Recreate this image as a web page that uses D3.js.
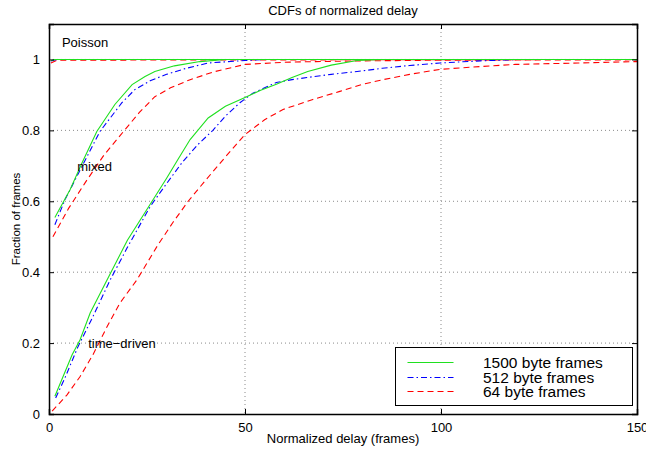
<!DOCTYPE html>
<html lang="en">
<head>
<meta charset="UTF-8">
<title>CDFs of normalized delay</title>
<script src="https://d3js.org/d3.v7.min.js"></script>
<style>
    body { margin: 0; background: #fff; }
    svg { display: block; font-family: "Liberation Sans", Arial, sans-serif; }
    .grid line { stroke: #8a8a8a; stroke-width: 1; stroke-dasharray: 1,3; }
    .curve { fill: none; stroke-width: 1.1; }
    .lbl { font-size: 13px; fill: #000; }
</style>
</head>
<body>
<script>
// tick values
const xTicks = [0, 50, 100, 150];
const yTicks = [0, 0.2, 0.4, 0.6, 0.8, 1];
const seriesNames = ["1500 byte frames", "512 byte frames", "64 byte frames"];

// time-driven traffic, [delay, fraction]
const td1500 = [[1.5,0.05],[5.9,0.167],[7.9,0.209],[10.5,0.285],[14.8,0.378],[20,0.49],[26.3,0.6],[30,0.665],[33,0.72],[36,0.774],[40.6,0.835],[45,0.868],[50,0.893],[54,0.913],[58,0.93],[62,0.949],[66,0.966],[72,0.984],[78.6,0.997],[85,1],[150,1]];
const td512 = [[1.7,0.045],[4,0.1],[7.4,0.19],[11,0.27],[15.6,0.378],[20,0.47],[25.8,0.585],[30,0.65],[34,0.71],[38,0.76],[41.8,0.8],[45,0.84],[48.7,0.878],[52,0.905],[58,0.935],[62,0.943],[65.8,0.949],[72,0.958],[78.6,0.966],[85,0.975],[92,0.983],[99.7,0.99],[110,0.996],[120,1],[150,1]];
const td64 = [[0.8,0.008],[4.6,0.054],[7.9,0.105],[11.2,0.167],[14.8,0.246],[18.1,0.313],[22.4,0.378],[27.8,0.477],[31.6,0.54],[35.5,0.6],[40,0.66],[45,0.725],[50,0.788],[55,0.83],[59.7,0.859],[67.3,0.887],[74.2,0.91],[80,0.93],[85.2,0.943],[92,0.958],[99.7,0.972],[110,0.98],[119,0.986],[135,0.99],[150,0.994]];

// mixed traffic
const mx1500 = [[1.5,0.554],[5.4,0.633],[8.5,0.71],[12.2,0.797],[16.8,0.873],[21.2,0.929],[24.5,0.952],[27,0.966],[32,0.982],[38.5,0.994],[45,1],[150,1]];
const mx512 = [[1.5,0.534],[4.1,0.605],[8.5,0.7],[13,0.797],[18.6,0.878],[21.9,0.915],[25.8,0.94],[30,0.958],[35,0.975],[40.6,0.99],[50,0.997],[55,1],[150,1]];
const mx64 = [[1,0.5],[5,0.58],[9.2,0.652],[14,0.73],[19.4,0.802],[23,0.85],[27,0.895],[31,0.92],[36,0.943],[42,0.965],[50,0.986],[60,0.992],[68,0.994],[80,0.996],[100,0.998],[150,0.999]];

// poisson traffic
const po1500 = [[0.5,0.997],[1.5,1],[150,1]];
const po512 = [[0.5,0.996],[2,1],[150,1]];
const po64 = [[0.5,0.99],[2,0.998],[150,1]];

const styles = [
    { color: "#1fe01f", dash: null },
    { color: "#0000ff", dash: "6,3,1.5,3" },
    { color: "#ff0000", dash: "6,4" }
];

// draw order: 64, 512, 1500 so green is on top
const curves = [
    { pts: td64, s: 2 }, { pts: mx64, s: 2 }, { pts: po64, s: 2 },
    { pts: td512, s: 1 }, { pts: mx512, s: 1 }, { pts: po512, s: 1 },
    { pts: td1500, s: 0 }, { pts: mx1500, s: 0 }, { pts: po1500, s: 0 }
];

const W = 646, H = 449;
const margin = { top: 24, right: 9, bottom: 35, left: 49 };
const iw = W - margin.left - margin.right;
const ih = H - margin.top - margin.bottom;

const svg = d3.select("body").append("svg")
    .attr("width", W)
    .attr("height", H);

const g = svg.append("g")
    .attr("transform", `translate(${margin.left},${margin.top})`);

const x = d3.scaleLinear().domain([0, 150]).range([0, iw]);
const y = d3.scaleLinear().domain([0, 1.1]).range([ih, 0]);

// grid
const grid = g.append("g").attr("class", "grid");
grid.selectAll(".gx").data(xTicks.filter(d => d > 0 && d < 150)).enter()
    .append("line")
    .attr("x1", d => x(d)).attr("x2", d => x(d))
    .attr("y1", 0).attr("y2", ih);
grid.selectAll(".gy").data(yTicks.filter(d => d > 0)).enter()
    .append("line")
    .attr("x1", 0).attr("x2", iw)
    .attr("y1", d => y(d)).attr("y2", d => y(d));

// curves
const line = d3.line().x(d => x(d[0])).y(d => y(d[1]));
g.selectAll(".curve").data(curves).enter()
    .append("path")
    .attr("class", "curve")
    .attr("d", d => line(d.pts))
    .attr("stroke", d => styles[d.s].color)
    .attr("stroke-dasharray", d => styles[d.s].dash);

// axes, matlab style: inward ticks on all four sides
const tickLen = 5;
g.append("g")
    .attr("transform", `translate(0,${ih})`)
    .call(d3.axisBottom(x).tickValues(xTicks).tickSize(-tickLen).tickPadding(tickLen + 4).tickFormat(d3.format("d")));
g.append("g")
    .call(d3.axisTop(x).tickValues(xTicks).tickSize(-tickLen).tickFormat(""));
g.append("g")
    .call(d3.axisLeft(y).tickValues(yTicks).tickSize(-tickLen).tickPadding(tickLen + 4).tickFormat(d => d === 0 || d === 1 ? d3.format("d")(d) : d3.format(".1f")(d)));
g.append("g")
    .attr("transform", `translate(${iw},0)`)
    .call(d3.axisRight(y).tickValues(yTicks).tickSize(-tickLen).tickFormat(""));

g.selectAll(".domain").attr("stroke", "#000").attr("stroke-width", 1.5);
g.selectAll(".tick line").attr("stroke", "#000");
g.selectAll(".tick text")
    .attr("fill", "#000")
    .style("font-size", "13px")
    .style("font-family", "\"Liberation Sans\", Arial, sans-serif");

// titles
svg.append("text").attr("class", "lbl")
    .attr("x", margin.left + iw / 2).attr("y", 15)
    .attr("text-anchor", "middle")
    .text("CDFs of normalized delay");
svg.append("text").attr("class", "lbl")
    .attr("x", margin.left + iw / 2).attr("y", 443)
    .attr("text-anchor", "middle")
    .text("Normalized delay (frames)");
svg.append("text").attr("class", "lbl")
    .attr("transform", `translate(20,${margin.top + y(0.55)}) rotate(-90)`)
    .attr("text-anchor", "middle")
    .style("font-size", "11.5px")
    .text("Fraction of frames");

// curve group labels
const notes = [
    { t: "Poisson", px: 3.3, py: 1.035 },
    { t: "mixed", px: 7.2, py: 0.685 },
    { t: "time\u2212driven", px: 10, py: 0.185 }
];
g.selectAll(".note").data(notes).enter()
    .append("text").attr("class", "lbl")
    .attr("x", d => x(d.px)).attr("y", d => y(d.py))
    .text(d => d.t);

// legend
const lg = svg.append("g").attr("transform", "translate(395.5,347.5)");
lg.append("rect")
    .attr("width", 237).attr("height", 58)
    .attr("fill", "#fff").attr("stroke", "#000").attr("stroke-width", 1);
const rows = lg.selectAll(".row").data(seriesNames).enter()
    .append("g")
    .attr("transform", (d, i) => `translate(0,${Math.round(15 + i * 14.7)})`);
rows.append("line")
    .attr("x1", 12).attr("x2", 58)
    .attr("stroke", (d, i) => styles[i].color)
    .attr("stroke-dasharray", (d, i) => styles[i].dash)
    .attr("stroke-width", 1.1);
rows.append("text")
    .attr("x", 87.5).attr("y", 5)
    .style("font-size", "15.5px")
    .text(d => d);
</script>
</body>
</html>
